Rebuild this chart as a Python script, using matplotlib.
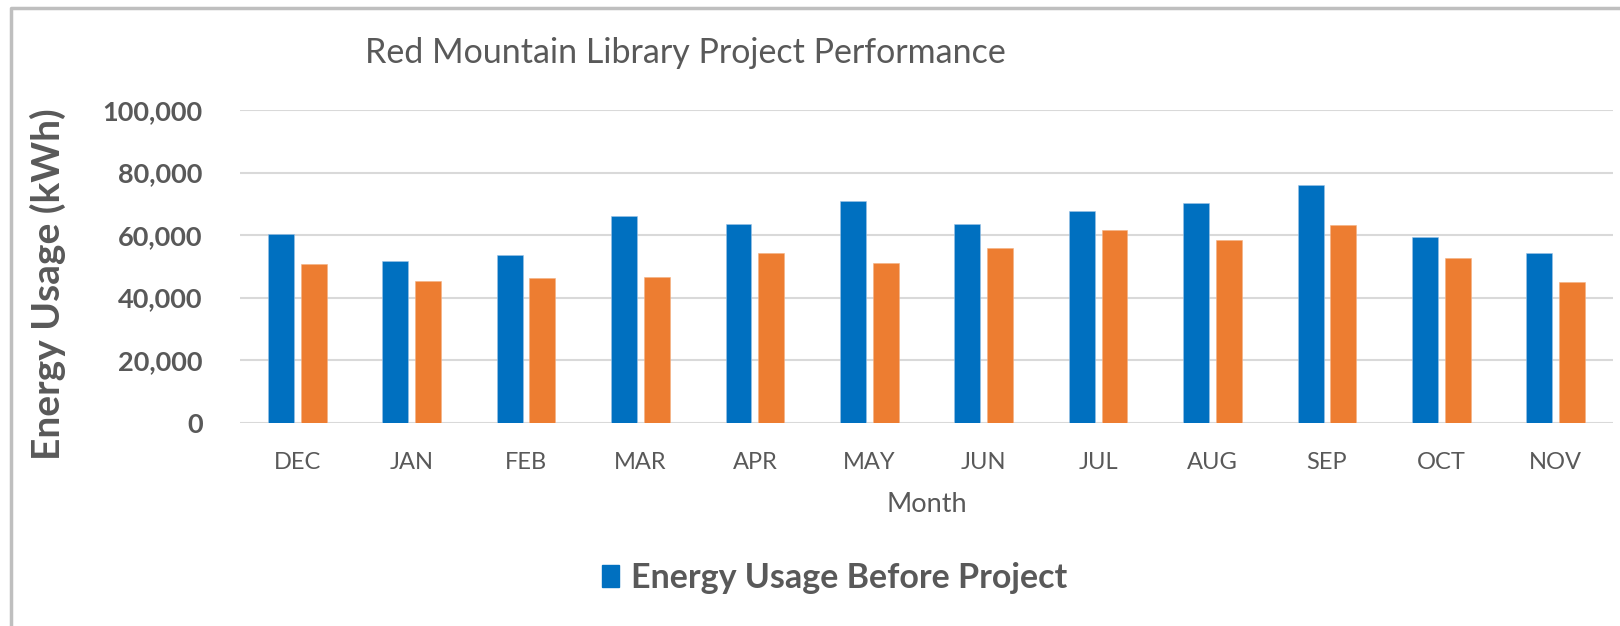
import matplotlib.pyplot as plt
import numpy as np
from matplotlib.lines import Line2D
from matplotlib.patches import Patch

months = ["DEC", "JAN", "FEB", "MAR", "APR", "MAY", "JUN", "JUL", "AUG", "SEP", "OCT", "NOV"]
before = [60300, 51700, 53700, 66000, 63400, 70800, 63700, 67600, 70300, 76100, 59300, 54300]
after = [50900, 45400, 46200, 46600, 54300, 51200, 56000, 61700, 58400, 63200, 52800, 45100]

blue = "#0070C0"
orange = "#ED7D31"
txt = "#595959"

plt.rcParams['font.family'] = ['Lato', 'DejaVu Sans']

W, H = 1620, 626
fig = plt.figure(figsize=(W / 100, H / 100), dpi=100)
ax = fig.add_axes([240 / W, 1 - 422.7 / H, (1613 - 240) / W, (422.7 - 110) / H])

x = np.arange(len(months))
w = 0.227
ax.bar(x - 0.143, before, w, color=blue, edgecolor="#9DC3E6", linewidth=0.4, zorder=3)
ax.bar(x + 0.143, after, w, color=orange, edgecolor="#F4B183", linewidth=0.4, zorder=3)

ax.set_xlim(-0.5, len(months) - 0.5)
ax.set_ylim(0, 100000)
ax.set_yticks(np.arange(0, 100001, 20000))
ax.set_yticklabels([f"{v:,}" for v in range(0, 100001, 20000)],
                   fontsize=19.5, fontweight="bold", color=txt)
ax.set_xticks(x)
ax.set_xticklabels(months, fontsize=17, color=txt)
ax.tick_params(length=0)
ax.tick_params(axis="y", pad=27)
ax.tick_params(axis="x", pad=21)
ax.grid(axis="y", color="#D9D9D9", linewidth=1.5, zorder=0)
for s in ax.spines.values():
    s.set_visible(False)
ax.set_axisbelow(True)

ax.set_xlabel("Month", fontsize=19.5, color=txt, labelpad=14)
fig.text(48 / W, 1 - 284 / H, "Energy Usage (kWh)", rotation=90, fontsize=28,
         fontweight="bold", color=txt, ha="center", va="center")
fig.text(685 / W, 1 - 53 / H, "Red Mountain Library Project Performance",
         fontsize=24.5, color=txt, ha="center", va="center")

handle = Patch(facecolor=blue, edgecolor=blue)
fig.legend(handles=[handle], labels=["Energy Usage Before Project"],
           loc="center left", bbox_to_anchor=(571 / W, 1 - 578 / H), frameon=False,
           prop={"size": 24.5, "weight": "bold"}, labelcolor=txt,
           handlelength=0.5, handleheight=0.62, handletextpad=0.35)

# outer chart border (only top and left edge visible)
fig.add_artist(Line2D([11 / W, 11 / W, 1.0], [0.0, 1 - 8 / H, 1 - 8 / H],
                      transform=fig.transFigure, color="#BFBFBF", linewidth=2.5))

fig.savefig("out.png", dpi=100)
